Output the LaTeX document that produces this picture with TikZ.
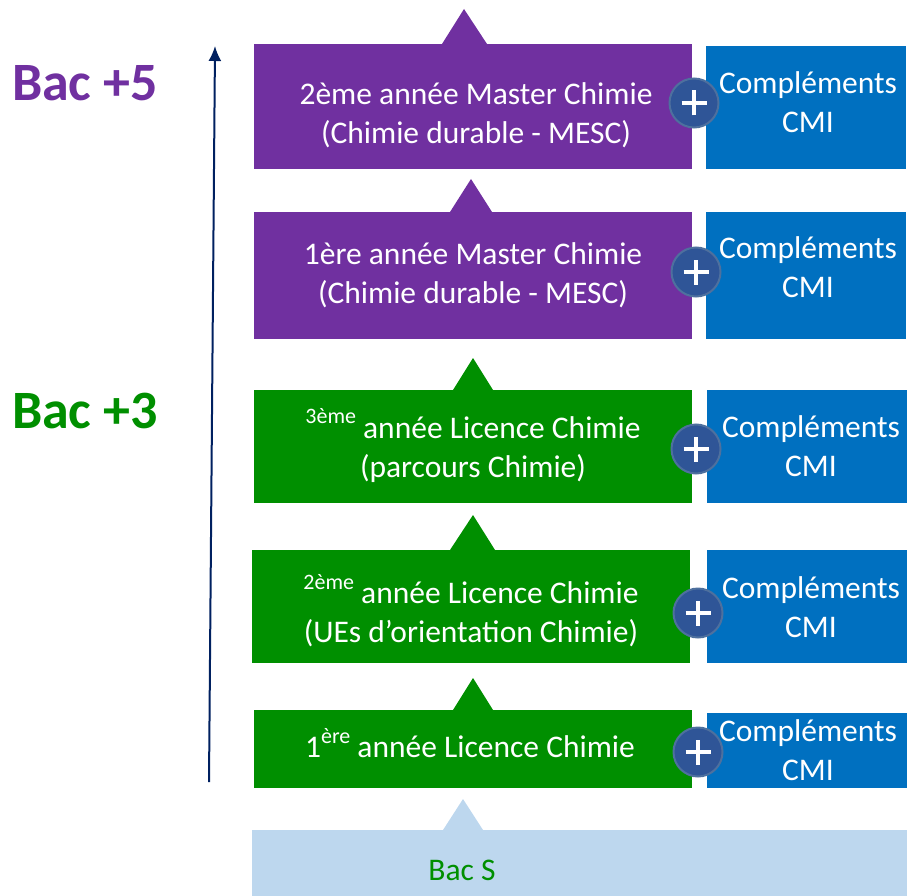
\documentclass[tikz,border=0pt]{standalone}
\usepackage{fontspec}
\setmainfont{Carlito}
\usetikzlibrary{arrows.meta}
\definecolor{mescpurple}{RGB}{112,48,160}
\definecolor{licgreen}{RGB}{0,143,0}
\definecolor{cmiblue}{RGB}{0,112,192}
\definecolor{bacblue}{RGB}{189,215,238}
\definecolor{plusblue}{RGB}{47,85,151}
\definecolor{plusrim}{RGB}{78,112,158}
\definecolor{axisnavy}{RGB}{0,32,96}
\newcommand{\expo}[1]{\raisebox{0.45em}{\fontsize{22}{22}\selectfont #1}}

\begin{document}
\begin{tikzpicture}[x=1pt,y=-1pt,>=Latex,
  yearbox/.style={fill=#1,inner sep=0pt,minimum width=438pt},
  cmibox/.style={fill=cmiblue,inner sep=0pt,minimum width=200pt},
  boxtext/.style={text=white,align=center,inner sep=0pt,font=\fontsize{31.5}{39}\selectfont},
  plusbtn/.style={circle,fill=plusblue,draw=plusrim,line width=2pt,minimum size=49pt,inner sep=0pt,
    path picture={\draw[white,line width=4pt]
      ([xshift=-12.5pt]path picture bounding box.center) -- ([xshift=12.5pt]path picture bounding box.center)
      ([yshift=-12.5pt]path picture bounding box.center) -- ([yshift=12.5pt]path picture bounding box.center);}},
  baclevel/.style={text=#1,font=\fontsize{54}{54}\selectfont\bfseries}]
  \useasboundingbox (0,0) rectangle (907,896);
  % levels
  \node[baclevel=mescpurple] (bac5) at (85,83) {Bac +5};
  \node[baclevel=licgreen] (bac3) at (85,411) {Bac +3};
  \coordinate (axis0) at (209,782);
  \coordinate (axis1) at (215,46);
  \draw[->,axisnavy,line width=2pt,-{Latex[length=15pt,width=13pt]}] (axis0) -- (axis1);
  % Bac S
  \fill[bacblue] (252,830) rectangle (907,896);
  \fill[bacblue] (443,830) -- (463,799) -- (483,830) -- cycle;
  \node[text=licgreen,font=\fontsize{31.5}{39}\selectfont] (bacs) at (462,870) {Bac S};
  % year boxes (yshift is in canvas units: positive moves up)
  \fill[licgreen] (453,710) -- (473,678) -- (493,710) -- cycle;
  \node[yearbox=licgreen,minimum height=78pt] (l1) at (473,749) {};
  \node[boxtext] (l1t) at ([xshift=-3pt,yshift=6pt]l1.center) {1\expo{ère} année Licence Chimie};
  \fill[licgreen] (450,550) -- (473,515) -- (495,550) -- cycle;
  \node[yearbox=licgreen,minimum height=113pt] (l2) at (471,606.5) {};
  \node[boxtext] (l2t) at ([yshift=-4pt]l2.center) {\expo{2ème} année Licence Chimie\\(UEs d’orientation Chimie)};
  \fill[licgreen] (453,390) -- (473,358) -- (493,390) -- cycle;
  \node[yearbox=licgreen,minimum height=113pt] (l3) at (473,446.5) {};
  \node[boxtext] (l3t) at ([yshift=1pt]l3.center) {\expo{3ème} année Licence Chimie\\(parcours Chimie)};
  \fill[mescpurple] (450,212) -- (471,179) -- (492,212) -- cycle;
  \node[yearbox=mescpurple,minimum height=127pt] (m1) at (473,275.5) {};
  \node[boxtext] (m1t) at (m1.center) {1ère année Master Chimie\\(Chimie durable - MESC)};
  \fill[mescpurple] (442,44) -- (464,9) -- (487,44) -- cycle;
  \node[yearbox=mescpurple,minimum height=125pt] (m2) at (473,106.5) {};
  \node[boxtext] (m2t) at ([xshift=3pt,yshift=-9pt]m2.center) {2ème année Master Chimie\\(Chimie durable - MESC)};
  % CMI
  \node[cmibox,minimum height=75pt] (c1) at (807,750) {};
  \node[boxtext] (c1t) at ([xshift=1pt]c1.center) {Compléments\\CMI};
  \node[cmibox,minimum height=113pt] (c2) at (807,606.5) {};
  \node[boxtext] (c2t) at ([xshift=4pt,yshift=-1pt]c2.center) {Compléments\\CMI};
  \node[cmibox,minimum height=113pt] (c3) at (807,446.5) {};
  \node[boxtext] (c3t) at ([xshift=4pt]c3.center) {Compléments\\CMI};
  \node[cmibox,minimum height=127pt] (c4) at (806,275.5) {};
  \node[boxtext] (c4t) at ([xshift=2pt,yshift=8pt]c4.center) {Compléments\\CMI};
  \node[cmibox,minimum height=123pt] (c5) at (806,107.5) {};
  \node[boxtext] (c5t) at ([xshift=2pt,yshift=5pt]c5.center) {Compléments\\CMI};
  \node[plusbtn] (p1) at (698,752) {};
  \node[plusbtn] (p2) at (698,613) {};
  \node[plusbtn] (p3) at (696,449) {};
  \node[plusbtn] (p4) at (696,272) {};
  \node[plusbtn] (p5) at (694,103) {};
\end{tikzpicture}
\end{document}
